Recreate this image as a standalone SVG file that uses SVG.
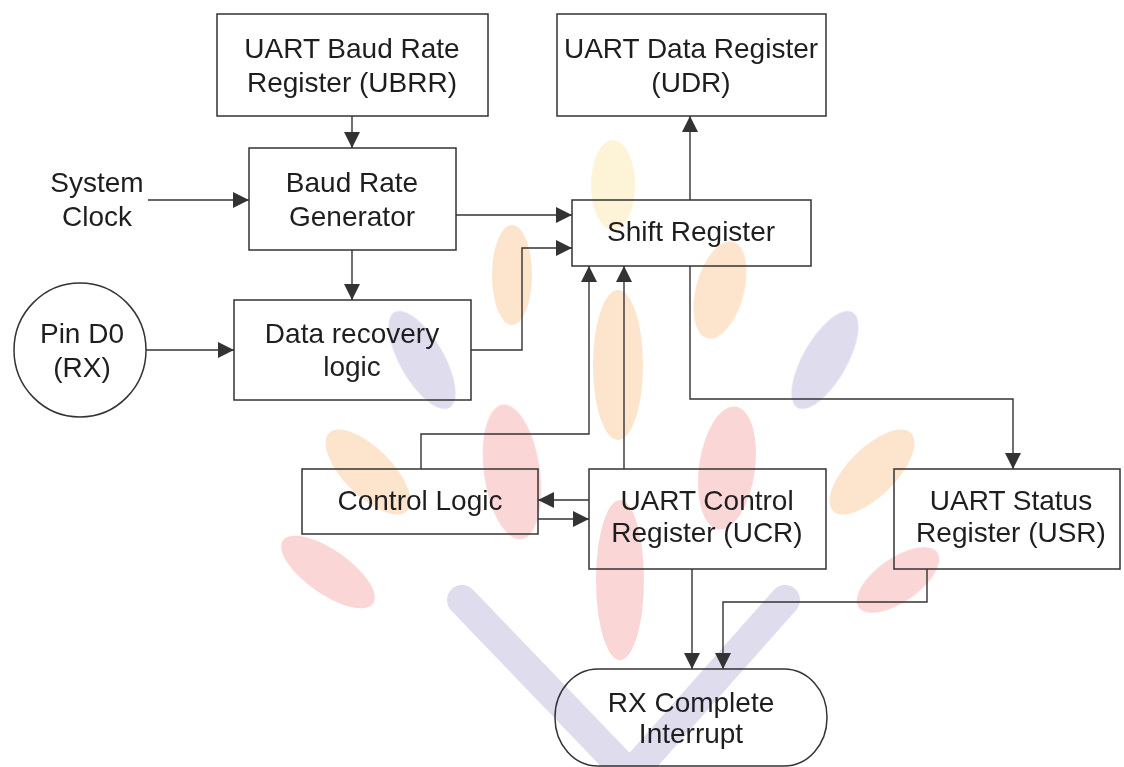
<svg xmlns="http://www.w3.org/2000/svg" width="1124" height="767" viewBox="0 0 1124 767">
  <style>
    .box { fill: none; stroke: #333; stroke-width: 1.5; }
    .lbl { font-family: "Liberation Sans", Arial, sans-serif; font-size: 28px; fill: #1e1e1e; text-anchor: middle; }
    .wire { fill: none; stroke: #333; stroke-width: 1.4; marker-end: url(#head); }
    .leaf-o { fill: #fde2c8; }
    .leaf-r { fill: #fbd2d2; }
    .leaf-p { fill: #dcd8ec; }
    .leaf-y { fill: #fdf2d2; }
    .stem { fill: none; stroke: #dcd8ec; stroke-width: 30; stroke-linecap: round; }
  </style>
  <defs>
    <marker id="head" viewBox="0 0 16 16" refX="16" refY="8" markerWidth="16" markerHeight="16" markerUnits="userSpaceOnUse" orient="auto">
      <path d="M0,0 L16,8 L0,16 z" fill="#333"/>
    </marker>
  </defs>
  <rect width="1124" height="767" fill="#fff"/>

  <!-- faint leaf emblem in the background -->
  <g id="emblem" opacity="0.9">
    <ellipse class="leaf-y" cx="613" cy="185" rx="22" ry="45"/>
    <ellipse class="leaf-o" cx="512" cy="275" rx="20" ry="50"/>
    <ellipse class="leaf-o" cx="720" cy="290" rx="24" ry="50" transform="rotate(15 720 290)"/>
    <ellipse class="leaf-o" cx="618" cy="365" rx="25" ry="75"/>
    <ellipse class="leaf-p" cx="422" cy="360" rx="22" ry="55" transform="rotate(-30 422 360)"/>
    <ellipse class="leaf-p" cx="825" cy="360" rx="22" ry="55" transform="rotate(30 825 360)"/>
    <ellipse class="leaf-o" cx="368" cy="472" rx="24" ry="55" transform="rotate(-45 368 472)"/>
    <ellipse class="leaf-o" cx="872" cy="472" rx="24" ry="55" transform="rotate(45 872 472)"/>
    <ellipse class="leaf-r" cx="512" cy="472" rx="28" ry="68" transform="rotate(-8 512 472)"/>
    <ellipse class="leaf-r" cx="727" cy="468" rx="28" ry="62" transform="rotate(8 727 468)"/>
    <ellipse class="leaf-r" cx="620" cy="580" rx="24" ry="80"/>
    <ellipse class="leaf-r" cx="328" cy="572" rx="22" ry="55" transform="rotate(-55 328 572)"/>
    <ellipse class="leaf-r" cx="898" cy="580" rx="22" ry="48" transform="rotate(55 898 580)"/>
    <path class="stem" d="M462,600 L630,775 L785,600"/>
  </g>

  <g id="connectors">
    <path class="wire" d="M352,116 V148"/>
    <path class="wire" d="M148,200 H249"/>
    <path class="wire" d="M456,215 H572"/>
    <path class="wire" d="M352,250 V300"/>
    <path class="wire" d="M146,350 H234"/>
    <path class="wire" d="M471,350 H522 V248 H572"/>
    <path class="wire" d="M690,200 V116"/>
    <path class="wire" d="M421,469 V434 H589 V266"/>
    <path class="wire" d="M624,469 V266"/>
    <path class="wire" d="M690,266 V399 H1013 V469"/>
    <path class="wire" d="M589,500 H538"/>
    <path class="wire" d="M538,519 H589"/>
    <path class="wire" d="M692,569 V669"/>
    <path class="wire" d="M927,569 V602 H723 V669"/>
  </g>

  <g id="ubrr">
    <rect class="box" x="217" y="14" width="271" height="102"/>
    <text class="lbl" x="352" y="58">UART Baud Rate</text>
    <text class="lbl" x="352" y="92">Register (UBRR)</text>
  </g>
  <g id="udr">
    <rect class="box" x="557" y="14" width="269" height="102"/>
    <text class="lbl" x="691" y="58">UART Data Register</text>
    <text class="lbl" x="691" y="92">(UDR)</text>
  </g>
  <g id="system-clock">
    <text class="lbl" x="97" y="192">System</text>
    <text class="lbl" x="97" y="226">Clock</text>
  </g>
  <g id="baud-gen">
    <rect class="box" x="249" y="148" width="207" height="102"/>
    <text class="lbl" x="352" y="192">Baud Rate</text>
    <text class="lbl" x="352" y="226">Generator</text>
  </g>
  <g id="shift-reg">
    <rect class="box" x="572" y="200" width="239" height="66"/>
    <text class="lbl" x="691" y="241">Shift Register</text>
  </g>
  <g id="pin-d0">
    <ellipse class="box" cx="80" cy="350" rx="66" ry="67"/>
    <text class="lbl" x="82" y="343">Pin D0</text>
    <text class="lbl" x="82" y="377">(RX)</text>
  </g>
  <g id="data-recovery">
    <rect class="box" x="234" y="300" width="237" height="100"/>
    <text class="lbl" x="352" y="343">Data recovery</text>
    <text class="lbl" x="352" y="376">logic</text>
  </g>
  <g id="control-logic">
    <rect class="box" x="302" y="469" width="236" height="65"/>
    <text class="lbl" x="420" y="510">Control Logic</text>
  </g>
  <g id="ucr">
    <rect class="box" x="589" y="469" width="237" height="100"/>
    <text class="lbl" x="707" y="510">UART Control</text>
    <text class="lbl" x="707" y="542">Register (UCR)</text>
  </g>
  <g id="usr">
    <rect class="box" x="894" y="469" width="226" height="100"/>
    <text class="lbl" x="1011" y="510">UART Status</text>
    <text class="lbl" x="1011" y="542">Register (USR)</text>
  </g>
  <g id="rx-complete">
    <rect class="box" x="555" y="669" width="272" height="97" rx="43" ry="48"/>
    <text class="lbl" x="691" y="712">RX Complete</text>
    <text class="lbl" x="691" y="743">Interrupt</text>
  </g>
</svg>
